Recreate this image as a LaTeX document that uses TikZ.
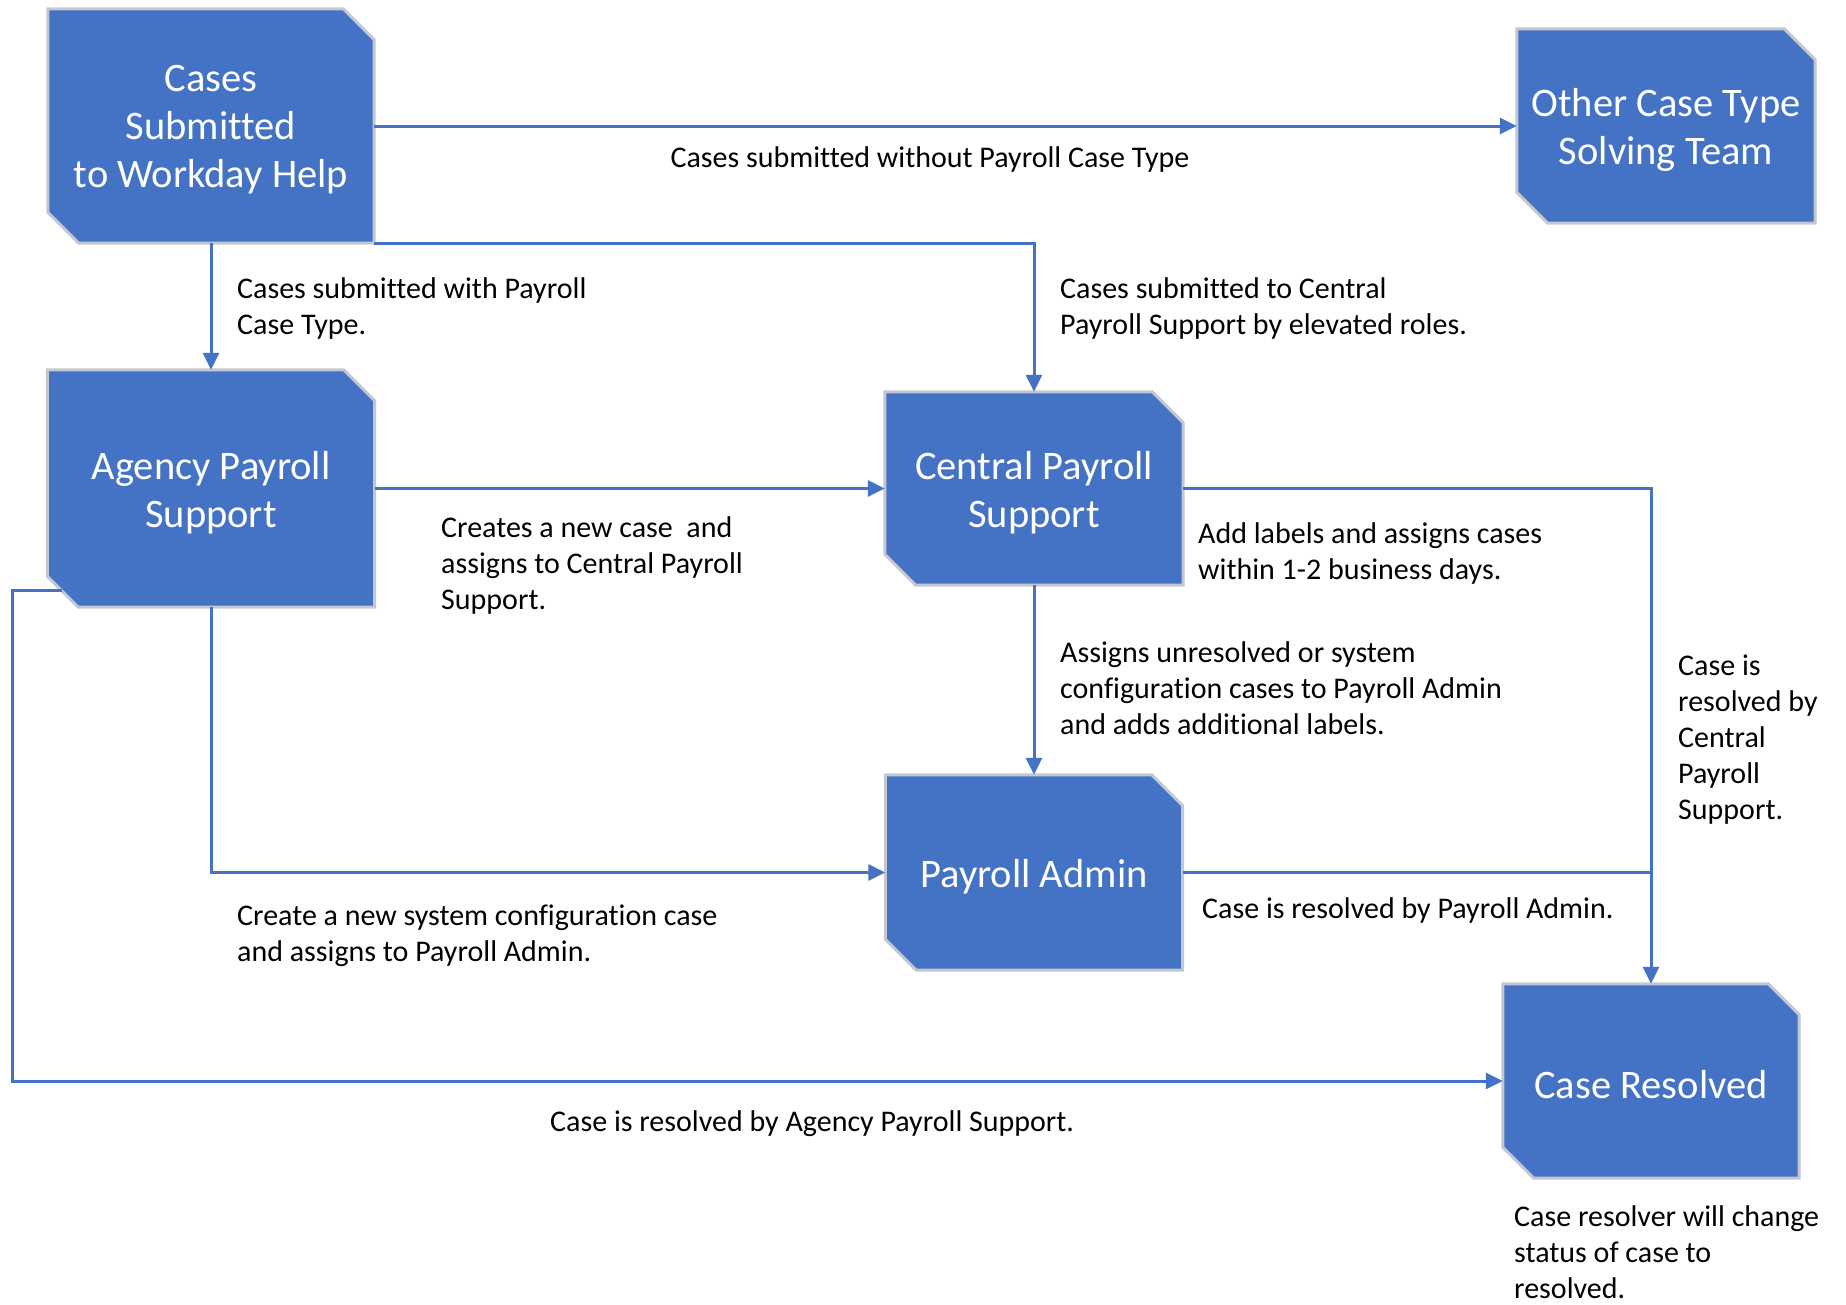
\documentclass[tikz,border=0pt]{standalone}
\usepackage{fontspec}
\setmainfont{Carlito}[Ligatures=NoCommon]
\usetikzlibrary{arrows.meta,backgrounds}
\definecolor{boxblue}{HTML}{4472C4}
\definecolor{boxedge}{HTML}{C3C8D0}
\newcommand\snipbox[2][31]{%
  \path[boxshape] (#2.north west) -- ([xshift=-#1pt]#2.north east) -- ([yshift=-#1pt]#2.north east)
    -- (#2.south east) -- ([xshift=#1pt]#2.south west) -- ([yshift=#1pt]#2.south west) -- cycle;}
\tikzset{
  boxshape/.style={fill=boxblue, draw=boxedge, line width=3pt, line join=miter},
  procbox/.style={rectangle, inner sep=0pt},
  boxtext/.style={inner sep=0pt, text=white, align=center, yshift=-4pt,
    font=\fontsize{40.5}{48}\selectfont},
  lbl/.style={inner sep=0pt, align=left, anchor=north west, text=black,
    font=\fontsize{30}{36}\selectfont},
  conn/.style={draw=boxblue, line width=3pt, -{Triangle[length=17pt,width=16pt]}},
  plainline/.style={draw=boxblue, line width=3pt},
}
\begin{document}
\begin{tikzpicture}[x=1pt, y=-1pt]
\useasboundingbox (0,0) rectangle (1846,1304);

% boxes
\node[procbox, minimum width=326pt, minimum height=234pt,
  label={[boxtext]center:Cases\\Submitted\\to Workday Help}] (box1) at (211,126) {};
\node[procbox, minimum width=298pt, minimum height=194pt,
  label={[boxtext]center:Other Case Type\\Solving Team}] (other) at (1666,126) {};
\node[procbox, minimum width=327pt, minimum height=237pt,
  label={[boxtext]center:Agency Payroll\\Support}] (agency) at (211,488.5) {};
\node[procbox, minimum width=298pt, minimum height=193pt,
  label={[boxtext]center:Central Payroll\\Support}] (central) at (1034,488.5) {};
\node[procbox, minimum width=297pt, minimum height=195pt,
  label={[boxtext]center:Payroll Admin}] (admin) at (1034,872.5) {};
\node[procbox, minimum width=296pt, minimum height=194pt,
  label={[boxtext]center:Case Resolved}] (resolved) at (1651,1081) {};

\begin{pgfonlayer}{background}
  \fill[white] (0,0) rectangle (1846,1304);
  \snipbox{box1}
  \snipbox{other}
  \snipbox{agency}
  \snipbox{central}
  \snipbox{admin}
  \snipbox{resolved}
\end{pgfonlayer}

\coordinate (agstart) at ([shift={(15pt,17pt)}]agency.south west);

% connectors
\draw[conn] (box1.east) -- (other.west);
\draw[conn] (box1.south) -- (agency.north);
\draw[conn] (box1.south east) -| (central.north);
\draw[conn] (agency.east) -- (central.west);
\draw[conn] (central.south) -- (admin.north);
\draw[conn] (agency.south) |- (admin.west);
\draw[conn] (central.east) -| (resolved.north);
\draw[plainline] (admin.east) -- (admin.east -| resolved.north);
\draw[conn] (agstart) -- ++(-50,0) |- (resolved.west);

% labels
\node[lbl, anchor=center] (l1) at (930,159) {Cases submitted without Payroll Case Type};
\node[lbl] (l2) at (237,277.5) {Cases submitted with Payroll\\Case Type.};
\node[lbl] (l3) at (1060,277.5) {Cases submitted to Central\\Payroll Support by elevated roles.};
\node[lbl] (l4) at (441,516) {Creates a new case\ \ and\\assigns to Central Payroll\\Support.};
\node[lbl] (l5) at (1198,522) {Add labels and assigns cases\\within 1-2 business days.};
\node[lbl] (l6) at (1060,641) {Assigns unresolved or system\\configuration cases to Payroll Admin\\and adds additional labels.};
\node[lbl] (l7) at (1678,654.5) {Case is\\resolved by\\Central\\Payroll\\Support.};
\node[lbl] (l8) at (1202,897) {Case is resolved by Payroll Admin.};
\node[lbl] (l9) at (237,905) {Create a new system configuration case\\and assigns to Payroll Admin.};
\node[lbl] (l10) at (550,1110) {Case is resolved by Agency Payroll Support.};
\node[lbl] (l11) at (1514,1205) {Case resolver will change\\status of case to\\resolved.};
\end{tikzpicture}
\end{document}
